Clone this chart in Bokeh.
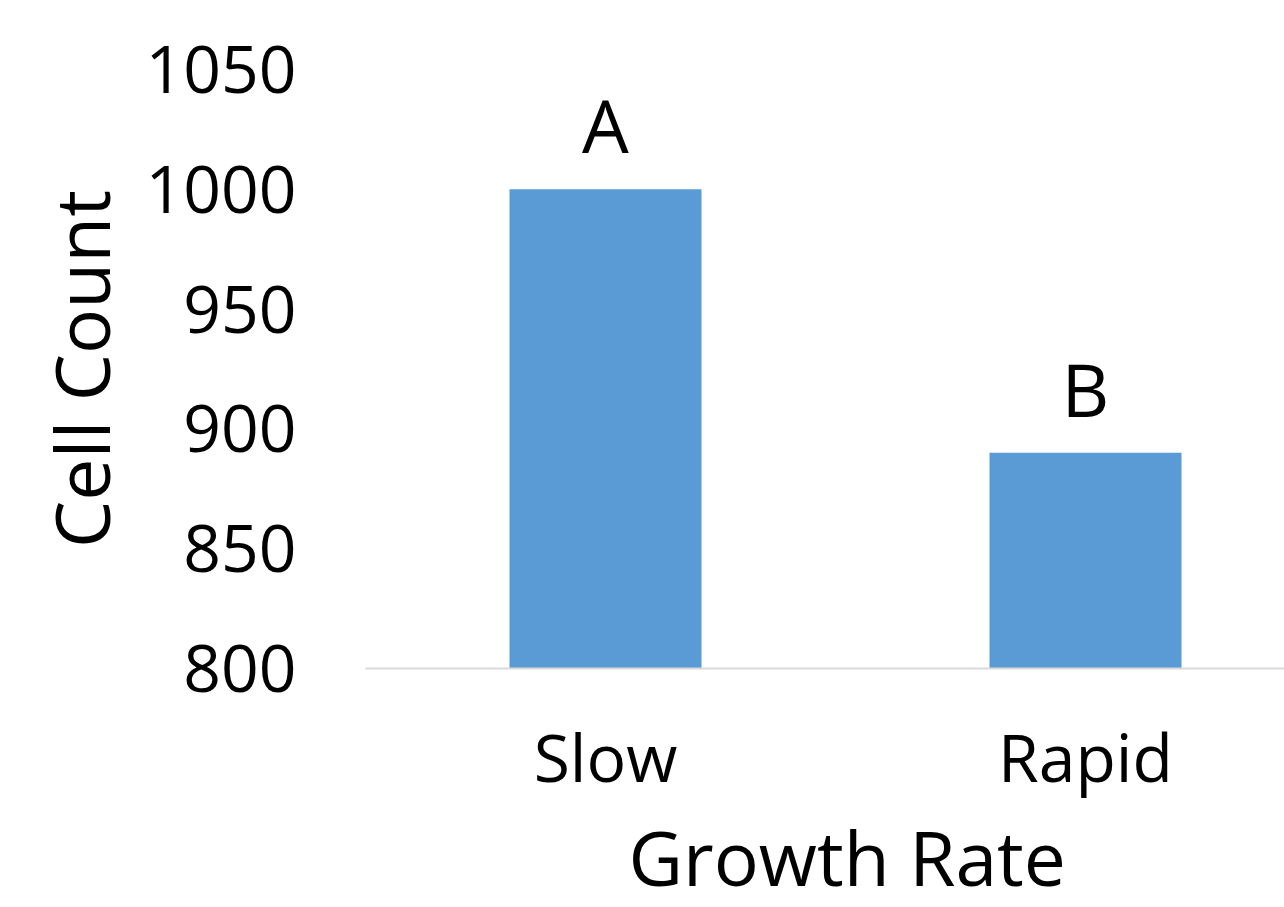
from bokeh.plotting import figure
from bokeh.models import ColumnDataSource, Range1d, FixedTicker, LabelSet, Title
from bokeh.core.properties import value
from bokeh.embed import file_html
from bokeh.resources import INLINE

categories = ["Slow", "Rapid"]
cell_count = [1000, 890]
letters = ["A", "B"]
y_ticks = [800, 850, 900, 950, 1000, 1050]
x_title = "Growth Rate"
y_title = "Cell Count"

FONT = "Open Sans"
W, H = 1284, 907
LEFT, TOP, BOTTOM = 365, 69, 238
CAT_PX = 480  # pixel width per category slot

xs = [i + 0.5 for i in range(len(categories))]
src = ColumnDataSource(dict(x=xs, cat=categories, y=cell_count, lab=letters))

p = figure(width=W, height=H, output_backend="svg", toolbar_location=None,
           x_range=Range1d(0, (W - LEFT) / CAT_PX), y_range=Range1d(800, 1050),
           min_border_left=LEFT, min_border_right=0, min_border_top=TOP,
           min_border_bottom=BOTTOM)
p.outline_line_color = None
p.xgrid.visible = False
p.ygrid.visible = False

p.vbar(x="x", top="y", bottom=800, width=0.4, source=src,
       fill_color="#5b9bd5", line_color=None)

p.add_layout(LabelSet(x="x", y="y", text="lab", source=src, y_offset=36,
                      text_align="center", text_baseline="alphabetic",
                      text_font=value(FONT), text_font_size=value("74px"),
                      text_color="black"))

# x axis
p.xaxis.ticker = FixedTicker(ticks=xs)
p.xaxis.major_label_overrides = {x: c for x, c in zip(xs, categories)}
p.xaxis.axis_line_color = "#d9d9d9"
p.xaxis.axis_line_width = 2
p.xaxis.major_tick_line_color = None
p.xaxis.minor_tick_line_color = None
p.xaxis.major_label_text_font = FONT
p.xaxis.major_label_text_font_size = "66px"
p.xaxis.major_label_text_color = "black"
p.xaxis.major_label_standoff = 36

# x title, centred under the two category slots (original frame is wider than the page)
p.add_layout(Title(text=x_title, align="left", offset=263, standoff=0,
                   text_font=FONT, text_font_size="75px", text_line_height=0.82,
                   text_font_style="normal", text_color="black"), "below")

# y axis
p.yaxis.ticker = FixedTicker(ticks=y_ticks)
p.yaxis.axis_line_color = None
p.yaxis.major_tick_line_color = None
p.yaxis.minor_tick_line_color = None
p.yaxis.major_label_text_font = FONT
p.yaxis.major_label_text_font_size = "66px"
p.yaxis.major_label_text_color = "black"
p.yaxis.major_label_standoff = 63
p.yaxis.axis_label = y_title
p.yaxis.axis_label_text_font = FONT
p.yaxis.axis_label_text_font_size = "75px"
p.yaxis.axis_label_text_font_style = "normal"
p.yaxis.axis_label_text_color = "black"
p.yaxis.axis_label_standoff = 11

open("out.html", "w").write(file_html(p, INLINE))
